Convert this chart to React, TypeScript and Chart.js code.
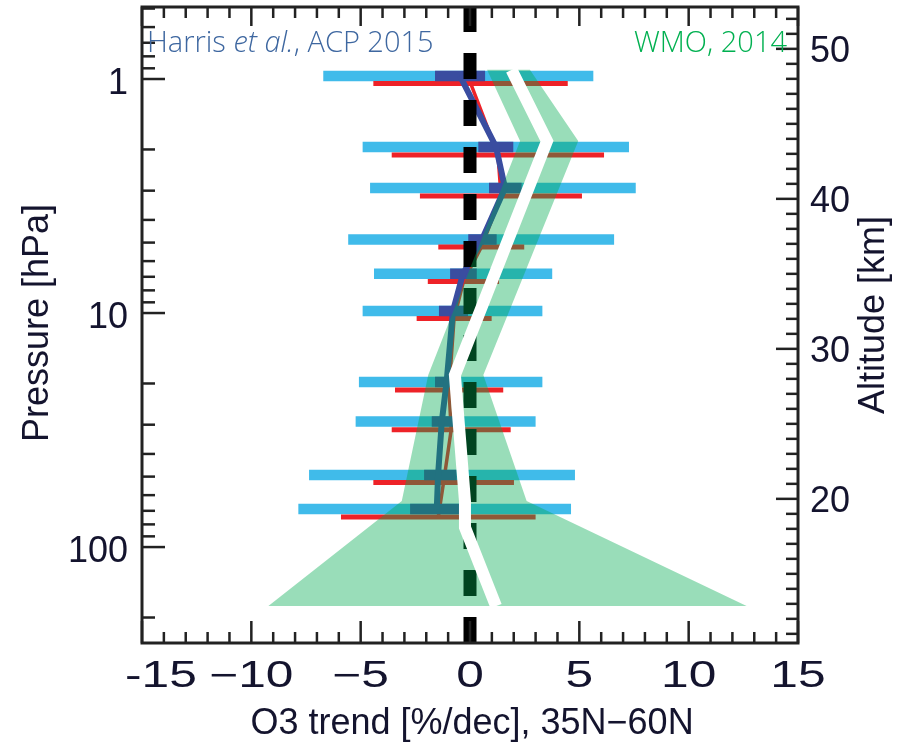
import React, { useEffect, useRef } from 'react';
import { Chart, registerables } from 'chart.js';

Chart.register(...registerables);

// ---------------- axes ----------------
const xRange = [-15, 15];
const xTickValues = [-15, -10, -5, 0, 5, 10, 15];
const xTickLabels = ['-15', '\u221210', '\u22125', '0', '5', '10', '15'];
const pressureRange = [0.4924, 257];
const pressureTickValues = [1, 10, 100];
const pressureTickLabels = ['1', '10', '100'];
const altitudeRange = [10.39, 52.79];
const altitudeTickValues = [20, 30, 40, 50];
const altitudeTickLabels = ['20', '30', '40', '50'];

const xTitle = 'O3 trend [%/dec], 35N\u221260N';
const yTitle = 'Pressure [hPa]';
const y2Title = 'Altitude [km]';
const harrisText = ['Harris ', 'et al.', ', ACP 2015'];
const wmoText = 'WMO, 2014';

// ---------------- Harris et al., ACP 2015 (pressure levels, hPa) ----------------
const harrisP = [0.97, 1.95, 2.92, 4.85, 6.8, 9.8, 19.7, 29.1, 49.2, 68.8];
const harrisLo = [-6.71, -4.91, -4.57, -5.57, -4.39, -4.91, -5.08, -5.23, -7.36, -7.85];
const harrisHi = [5.64, 7.27, 7.58, 6.59, 3.76, 3.31, 3.31, 3.0, 4.8, 4.62];
const harrisInnerLo = [-1.6, 0.38, 0.87, -0.08, -0.91, -1.42, -1.6, -1.75, -2.1, -2.74];
const harrisInnerHi = [0.69, 1.98, 2.36, 1.22, 0.31, -0.09, -0.61, -0.69, -0.61, -0.37];
const harrisMean = [-0.46, 1.19, 1.6, 0.55, -0.32, -0.78, -1.07, -1.29, -1.46, -1.52];

// second (red) estimate, slightly lower pressure offsets
const redP = [1.045, 2.11, 3.16, 5.22, 7.33, 10.56, 21.3, 31.5, 53.0, 74.4];
const redLo = [-4.42, -3.58, -2.29, -1.45, -1.93, -2.44, -3.43, -3.58, -4.42, -5.9];
const redHi = [4.47, 6.13, 5.12, 2.48, 1.33, 0.99, 1.52, 1.86, 2.01, 3.0];
const redMean = [0.03, 1.28, 1.42, 0.52, -0.3, -0.73, -0.96, -0.86, -1.21, -1.45];

// ---------------- WMO 2014 (altitude, km) ----------------
const wmoAlt = [48.6, 43.85, 28.25, 19.85, 12.85];
const wmoLo = [0.78, 2.29, -1.91, -3.12, -9.22];
const wmoHi = [2.74, 4.95, 0.61, 2.59, 12.65];
const wmoMeanAlt = [48.6, 43.85, 28.25, 19.85, 18.1, 12.85];
const wmoMean = [1.9, 3.52, -0.69, -0.23, -0.23, 1.19];

// ---------------- colours ----------------
const LIGHT_BLUE = '#40BBEA';
const DARK_BLUE = '#3A4DA0';
const RED = '#EE2228';
const GREEN_FILL = 'rgba(0,170,80,0.4)';
const AXIS = '#222222';
const TEXT = '#14142e';

function segments(p: number[], lo: number[], hi: number[]) {
  const pts: any[] = [];
  p.forEach((pv, i) => {
    pts.push({ x: lo[i], y: pv }, { x: hi[i], y: pv }, { x: 0, y: null });
  });
  return pts;
}

function profile(p: number[], v: number[]) {
  return p.map((pv, i) => ({ x: v[i], y: pv }));
}

const decorPlugin = {
  id: 'decor',
  afterDatasetsDraw(chart: any) {
    const { ctx, chartArea: a, scales } = chart;
    const xs = scales.x;
    const ys = scales.y;
    const y2 = scales.y2;
    ctx.save();
    ctx.strokeStyle = AXIS;
    ctx.lineCap = 'butt';
    ctx.lineWidth = 2.5;
    // x ticks (top & bottom)
    for (let v = xRange[0]; v <= xRange[1]; v++) {
      const px = xs.getPixelForValue(v);
      const major = v % 5 === 0;
      ctx.beginPath();
      ctx.moveTo(px, a.bottom);
      ctx.lineTo(px, a.bottom - (major ? 22 : 11));
      ctx.moveTo(px, a.top);
      ctx.lineTo(px, a.top + (major ? 19 : 11));
      ctx.stroke();
    }
    // pressure ticks (left)
    for (let d = 0.1; d < 1000; d *= 10) {
      for (let m = 1; m <= 9; m++) {
        const p = m * d;
        if (p < pressureRange[0] || p > pressureRange[1]) continue;
        const py = ys.getPixelForValue(p);
        ctx.beginPath();
        ctx.moveTo(a.left, py);
        ctx.lineTo(a.left + (m === 1 ? 23 : 13), py);
        ctx.stroke();
      }
    }
    // altitude ticks (right)
    for (let h = Math.ceil(altitudeRange[0]); h <= altitudeRange[1]; h++) {
      const py = y2.getPixelForValue(h);
      ctx.beginPath();
      ctx.moveTo(a.right, py);
      ctx.lineTo(a.right - (h % 10 === 0 ? 22 : 12), py);
      ctx.stroke();
    }
    // frame
    ctx.lineWidth = 3;
    ctx.strokeRect(a.left, a.top, a.right - a.left, a.bottom - a.top);

    // x tick labels (wide sans)
    ctx.fillStyle = TEXT;
    ctx.font = '36px "Liberation Sans", Arial, sans-serif';
    ctx.textBaseline = 'alphabetic';
    ctx.textAlign = 'center';
    const sx = 1.38;
    xTickValues.forEach((v, i) => {
      const lbl = xTickLabels[i];
      const w = ctx.measureText(lbl).width * sx;
      let cx = xs.getPixelForValue(v);
      if (cx - w / 2 < a.left - 17) cx = a.left - 17 + w / 2;
      ctx.save();
      ctx.translate(cx, a.bottom + 44);
      ctx.scale(sx, 1);
      ctx.fillText(lbl, 0, 0);
      ctx.restore();
    });

    // axis titles
    ctx.fillText(xTitle, (a.left + a.right) / 2 + 2, a.bottom + 91);
    ctx.save();
    ctx.translate(48, (a.top + a.bottom) / 2 - 2);
    ctx.rotate(-Math.PI / 2);
    ctx.fillText(yTitle, 0, 0);
    ctx.restore();
    ctx.save();
    ctx.translate(a.right + 86, (a.top + a.bottom) / 2 - 10);
    ctx.rotate(-Math.PI / 2);
    ctx.fillText(y2Title, 0, 0);
    ctx.restore();

    // annotations
    const fs = 29;
    const normal = `300 ${fs}px "Open Sans", sans-serif`;
    const italic = `italic 300 ${fs}px "Open Sans", sans-serif`;
    ctx.textAlign = 'left';
    ctx.fillStyle = '#3E67A0';
    let x = a.left + 5;
    const by = a.top + 45;
    harrisText.forEach((t, i) => {
      ctx.font = i === 1 ? italic : normal;
      ctx.fillText(t, x, by);
      x += ctx.measureText(t).width;
    });
    ctx.font = normal;
    ctx.textAlign = 'right';
    ctx.fillStyle = '#00B050';
    ctx.fillText(wmoText, a.right - 11, by);
    ctx.restore();
  },
};

export default function App() {
  const ref = useRef<HTMLCanvasElement | null>(null);
  useEffect(() => {
    if (!ref.current) return;
    const base = {
      pointRadius: 0,
      pointHoverRadius: 0,
      fill: false,
      tension: 0,
      spanGaps: false,
      borderCapStyle: 'butt',
      borderJoinStyle: 'miter',
    };
    const greenPts = [
      ...profile(wmoAlt, wmoLo),
      ...profile(wmoAlt, wmoHi).reverse(),
    ];
    greenPts.push(greenPts[0]);
    const chart = new Chart(ref.current, {
      type: 'line',
      data: {
        datasets: [
          { ...base, label: 'WMO 2014 mean', data: profile(wmoMeanAlt, wmoMean), yAxisID: 'y2', borderColor: '#ffffff', borderWidth: 12, order: 0 },
          { ...base, label: 'WMO 2014 range', data: greenPts, yAxisID: 'y2', borderColor: 'rgba(0,0,0,0)', borderWidth: 0, backgroundColor: GREEN_FILL, fill: 'shape', order: 1 },
          { ...base, label: 'zero', data: [{ x: 0, y: pressureRange[1] }, { x: 0, y: pressureRange[0] }], yAxisID: 'y', borderColor: '#000000', borderWidth: 13, borderDash: [26, 21], order: 2 },
          { ...base, label: 'Harris mean', data: profile(harrisP, harrisMean), yAxisID: 'y', borderColor: DARK_BLUE, borderWidth: 6, borderJoinStyle: 'round', order: 3 },
          { ...base, label: 'Harris inner', data: segments(harrisP, harrisInnerLo, harrisInnerHi), yAxisID: 'y', borderColor: DARK_BLUE, borderWidth: 10.5, order: 4 },
          { ...base, label: 'red mean', data: profile(redP, redMean), yAxisID: 'y', borderColor: RED, borderWidth: 3.5, order: 5 },
          { ...base, label: 'red range', data: segments(redP, redLo, redHi), yAxisID: 'y', borderColor: RED, borderWidth: 5, order: 6 },
          { ...base, label: 'Harris range', data: segments(harrisP, harrisLo, harrisHi), yAxisID: 'y', borderColor: LIGHT_BLUE, borderWidth: 10.5, order: 7 },
        ] as any,
      },
      options: {
        responsive: false,
        animation: false,
        devicePixelRatio: 1,
        events: [],
        layout: { padding: { top: 7, left: 0, right: 0, bottom: 0 } },
        plugins: { legend: { display: false }, tooltip: { enabled: false } },
        scales: {
          x: {
            type: 'linear',
            min: xRange[0],
            max: xRange[1],
            grid: { display: false, drawTicks: false },
            border: { display: false },
            ticks: { display: false },
            afterBuildTicks: (s: any) => { s.ticks = xTickValues.map((v) => ({ value: v })); },
            afterFit: (s: any) => { s.height = 99; s.paddingLeft = 0; s.paddingRight = 0; },
          },
          y: {
            type: 'logarithmic',
            position: 'left',
            reverse: true,
            min: pressureRange[0],
            max: pressureRange[1],
            grid: { display: false, drawTicks: false },
            border: { display: false },
            ticks: {
              padding: 14,
              labelOffset: 5,
              color: TEXT,
              font: { family: '"Liberation Sans", Arial, sans-serif', size: 36 },
              callback: (_v: any, i: number) => pressureTickLabels[i],
            },
            afterBuildTicks: (s: any) => { s.ticks = pressureTickValues.map((v) => ({ value: v })); },
            afterFit: (s: any) => { s.width = 142; s.paddingTop = 0; s.paddingBottom = 0; },
          },
          y2: {
            type: 'linear',
            position: 'right',
            min: altitudeRange[0],
            max: altitudeRange[1],
            grid: { display: false, drawTicks: false },
            border: { display: false },
            ticks: {
              padding: 12,
              labelOffset: 3,
              color: TEXT,
              font: { family: '"Liberation Sans", Arial, sans-serif', size: 36 },
              callback: (_v: any, i: number) => altitudeTickLabels[i],
            },
            afterBuildTicks: (s: any) => { s.ticks = altitudeTickValues.map((v) => ({ value: v })); },
            afterFit: (s: any) => { s.width = 103; s.paddingTop = 0; s.paddingBottom = 0; },
          },
        },
      } as any,
      plugins: [decorPlugin],
    });
    return () => chart.destroy();
  }, []);
  return (
    <div style={{ position: 'absolute', left: 0, top: 0, width: 901, height: 742, background: '#fff' }}>
      <canvas ref={ref} width={901} height={742} style={{ display: 'block' }} />
    </div>
  );
}
